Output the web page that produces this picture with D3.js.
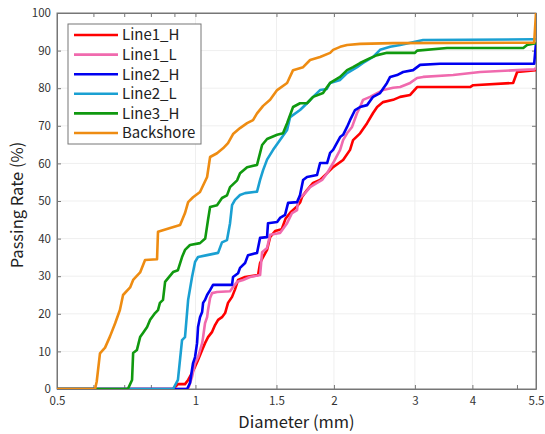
<!DOCTYPE html>
<html>
<head>
<meta charset="utf-8">
<script src="https://d3js.org/d3.v7.min.js"></script>
<style>
  body { margin: 0; background: #fff; }
  text { font-family: "Noto Sans CJK JP", "Noto Sans", sans-serif; fill: #333; }
</style>
</head>
<body>
<svg id="chart" width="545" height="434"></svg>
<script>
// diameter (mm) / passing rate (%)
var line1H = [[0.5,0],[0.894,0],[0.903,0.5],[0.916,1.3],[0.949,1.3],[0.964,2.4],[0.983,4.3],[0.998,5.9],[1.013,7.7],[1.034,10.4],[1.049,12.2],[1.065,13.8],[1.087,15.2],[1.103,17],[1.12,18.4],[1.142,19.1],[1.16,20.2],[1.177,22.9],[1.201,24.5],[1.219,26.5],[1.238,29],[1.282,29.8],[1.368,30.3],[1.382,33.5],[1.403,35.1],[1.431,37],[1.453,40.4],[1.49,42],[1.54,42.5],[1.57,45.3],[1.61,47],[1.66,48.5],[1.69,49.7],[1.705,51.1],[1.748,52.9],[1.802,54.8],[1.866,55.6],[1.933,57.4],[1.992,59],[2.094,60.9],[2.168,63.6],[2.201,66.2],[2.28,68],[2.361,70.7],[2.433,73.4],[2.483,75],[2.558,76.3],[2.69,76.9],[2.786,77.7],[2.929,78.2],[3.033,80.3],[3.955,80.3],[4.015,80.8],[4.905,81.4],[5.005,84.3],[5.5,84.8]];
var line1L = [[0.5,0],[0.964,0],[0.983,3.2],[0.998,6.9],[1.013,8.5],[1.034,12.2],[1.039,13.8],[1.049,17.5],[1.06,19.1],[1.065,21],[1.076,24.2],[1.087,25.5],[1.114,25.8],[1.189,26],[1.207,27.1],[1.232,28.5],[1.269,29],[1.314,29.8],[1.382,30.3],[1.396,36.4],[1.431,37.5],[1.453,41],[1.527,41.5],[1.582,44.1],[1.622,46.8],[1.663,47.6],[1.671,50.3],[1.731,52.1],[1.775,53.7],[1.838,54.8],[1.885,55.6],[1.933,57.4],[1.992,60.1],[2.063,63.6],[2.094,66.2],[2.136,68],[2.19,69.7],[2.246,73.4],[2.28,75],[2.314,76.9],[2.397,77.7],[2.483,78.7],[2.558,79.5],[2.69,80.1],[2.786,80.3],[2.929,81.4],[3.033,82.7],[3.126,83],[3.633,83.5],[4.158,84.3],[5.005,84.8],[5.45,85],[5.5,85.4]];
var line2H = [[0.5,0],[0.959,0],[0.973,1.6],[0.988,6.9],[0.998,8.5],[1.008,12.2],[1.013,16.5],[1.023,19.1],[1.034,20.5],[1.039,22.9],[1.049,23.7],[1.06,25],[1.076,26.3],[1.092,27.7],[1.201,27.7],[1.207,29.8],[1.238,30.8],[1.25,32.2],[1.282,33.5],[1.301,35.6],[1.361,36.2],[1.382,40.2],[1.431,40.4],[1.438,44.1],[1.505,44.4],[1.527,45.5],[1.566,46.3],[1.59,49.5],[1.663,49.7],[1.688,51.6],[1.714,55.6],[1.748,56.4],[1.838,56.9],[1.866,60.1],[1.933,60.1],[1.962,62.8],[1.992,63.6],[2.063,67],[2.094,67.6],[2.136,69.7],[2.168,71.5],[2.223,74.2],[2.28,75],[2.361,75.5],[2.433,77.7],[2.52,78.7],[2.609,81.4],[2.65,83],[2.744,83.5],[2.828,84.3],[2.973,84.8],[3.079,86.2],[3.403,86.5],[5.45,86.5],[5.5,92]];
var line2L = [[0.5,0],[0.894,0],[0.916,2.4],[0.935,13],[0.949,13.8],[0.964,23.7],[0.983,29.8],[0.998,33.8],[1.013,35.1],[1.06,35.6],[1.12,36.2],[1.142,39],[1.171,39.6],[1.189,44.1],[1.201,48.9],[1.219,50.3],[1.25,51.6],[1.282,52.1],[1.361,52.5],[1.382,55.6],[1.403,58.2],[1.431,61],[1.475,63.6],[1.527,66.2],[1.582,68.9],[1.606,72.3],[1.688,74.2],[1.748,76],[1.802,77.7],[1.866,79.5],[1.93,79.8],[1.962,81.4],[2.063,82.2],[2.136,84],[2.246,85.6],[2.314,86.7],[2.433,88.3],[2.52,90.2],[2.65,91],[2.786,91.5],[3.126,92.8],[5.45,93],[5.5,93]];
var line3H = [[0.5,0],[0.713,0],[0.728,2.4],[0.732,9.6],[0.746,10.4],[0.758,13.8],[0.769,14.9],[0.785,16.5],[0.797,18.4],[0.817,20.2],[0.829,21],[0.837,22.9],[0.85,23.7],[0.859,28.5],[0.872,29.5],[0.894,31.1],[0.916,31.6],[0.935,35.1],[0.949,37],[0.973,38.3],[1.023,38.8],[1.05,40],[1.065,45],[1.076,48.4],[1.114,48.9],[1.142,50.8],[1.171,51.5],[1.189,53.7],[1.232,55.5],[1.25,57.4],[1.295,59],[1.361,59.6],[1.382,62.8],[1.396,64.9],[1.431,66.5],[1.505,67.6],[1.55,68],[1.582,70.7],[1.63,75],[1.688,76],[1.748,76],[1.802,77.7],[1.894,78.7],[1.933,80.3],[1.962,81.4],[2.063,83],[2.136,84.8],[2.201,85.6],[2.28,86.7],[2.397,88],[2.483,88.8],[2.609,89.4],[3.0,89.4],[3.033,90],[3.524,90.7],[5.16,90.7],[5.26,91.5],[5.42,91.8],[5.5,92]];
var backshore = [[0.5,0],[0.605,0],[0.61,2],[0.62,9.5],[0.636,11],[0.652,14],[0.669,17.5],[0.685,21],[0.696,25],[0.721,27],[0.732,29],[0.758,31],[0.777,34.3],[0.825,34.5],[0.829,41.8],[0.881,42.8],[0.926,43.6],[0.949,46.8],[0.964,49.7],[0.988,51],[1.023,52.4],[1.06,56.4],[1.076,61.7],[1.114,62.7],[1.148,64],[1.177,65.4],[1.207,67.8],[1.25,69.4],[1.295,70.7],[1.334,71.5],[1.361,73.3],[1.403,75.3],[1.453,76.9],[1.505,79.5],[1.582,81.4],[1.63,84.8],[1.714,85.6],[1.775,87.5],[1.866,88.3],[1.962,89.4],[1.992,90.2],[2.063,91],[2.136,91.5],[2.28,91.8],[2.69,92],[5.45,92.1],[5.5,100]];

var seriesNames = ["Line1_H", "Line1_L", "Line2_H", "Line2_L", "Line3_H", "Backshore"];
var seriesData = [line1H, line1L, line2H, line2L, line3H, backshore];
var seriesColors = ["#ff0000", "#f06aae", "#0000f0", "#1aa0d2", "#10990f", "#ee8c12"];

var xTicks = [0.5, 0.6, 0.7, 0.8, 0.9, 1, 1.5, 2, 3, 4, 5, 5.5];
var xLabels = [0.5, 1, 1.5, 2, 3, 4, 5.5];
var yTicks = [0, 10, 20, 30, 40, 50, 60, 70, 80, 90, 100];

var svg = d3.select("#chart");
var plotL = 57, plotR = 536, plotT = 13, plotB = 389;

var x = d3.scaleLog().domain([0.5, 5.5]).range([plotL, plotR]);
var y = d3.scaleLinear().domain([0, 100]).range([plotB, plotT]);

// faint grid
svg.append("g").selectAll("line").data(xLabels.slice(1, -1)).enter().append("line")
    .attr("x1", d => x(d)).attr("x2", d => x(d)).attr("y1", plotT).attr("y2", plotB)
    .style("stroke", "#efefef").style("stroke-width", 1)
svg.append("g").selectAll("line").data(yTicks.slice(1, -1)).enter().append("line")
    .attr("x1", plotL).attr("x2", plotR).attr("y1", d => y(d)).attr("y2", d => y(d))
    .style("stroke", "#efefef").style("stroke-width", 1)

// axes (ticks inward, MATLAB-like box)
var xb = d3.axisBottom(x).tickValues(xTicks).tickSizeInner(-4).tickSizeOuter(0)
    .tickFormat(d => xLabels.indexOf(d) >= 0 ? d : "");
var xt = d3.axisTop(x).tickValues(xTicks).tickSizeInner(-4).tickSizeOuter(0).tickFormat("");
var yl = d3.axisLeft(y).tickValues(yTicks).tickSizeInner(-4).tickSizeOuter(0);
var yr = d3.axisRight(y).tickValues(yTicks).tickSizeInner(-4).tickSizeOuter(0).tickFormat("");

var gx = svg.append("g").attr("transform", "translate(0," + plotB + ")").call(xb);
svg.append("g").attr("transform", "translate(0," + plotT + ")").call(xt);
var gy = svg.append("g").attr("transform", "translate(" + plotL + ",0)").call(yl);
svg.append("g").attr("transform", "translate(" + plotR + ",0)").call(yr);

svg.selectAll(".domain").style("stroke", "#777");
svg.selectAll(".tick line").style("stroke", "#777");
gx.selectAll("text").attr("y", 8).attr("dy", "0.71em").style("font-size", "11.5px").style("fill", "#333");
gy.selectAll("text").attr("dx", "-3px").style("font-size", "11.5px").style("fill", "#333");

svg.append("rect").attr("x", plotL).attr("y", plotT).attr("width", plotR - plotL).attr("height", plotB - plotT)
    .style("fill", "none").style("stroke", "#777").style("stroke-width", 1)

svg.append("defs").append("clipPath").attr("id", "plotclip")
    .append("rect").attr("x", plotL).attr("y", plotT).attr("width", plotR - plotL).attr("height", plotB - plotT)

var line = d3.line().x(d => x(d[0])).y(d => y(d[1]));

svg.append("g").attr("clip-path", "url(#plotclip)")
    .selectAll("path")
    .data(seriesData)
    .enter()
    .append("path")
    .attr("d", d => line(d))
    .style("fill", "none")
    .style("stroke", (d, i) => seriesColors[i])
    .style("stroke-width", 2.6)
    .style("stroke-linejoin", "round")

// axis titles
svg.append("text").attr("x", (plotL + plotR) / 2).attr("y", 428)
    .style("text-anchor", "middle").style("font-size", "16.5px").style("fill", "#222")
    .text("Diameter (mm)")
svg.append("text").attr("transform", "translate(23," + ((plotT + plotB) / 2 + 4) + ") rotate(-90)")
    .style("text-anchor", "middle").style("font-size", "16.5px").style("fill", "#222")
    .text("Passing Rate (%)")

// legend
var lg = svg.append("g").attr("transform", "translate(68,24)");
lg.append("rect").attr("width", 133).attr("height", 120)
    .style("fill", "#fff").style("stroke", "#777").style("stroke-width", 1)
var rows = lg.selectAll("g").data(seriesNames).enter().append("g")
    .attr("transform", (d, i) => "translate(0," + (11 + i * 19.6) + ")")
rows.append("line").attr("x1", 6).attr("x2", 50)
    .style("stroke", (d, i) => seriesColors[i]).style("stroke-width", 2.6)
rows.append("text").attr("x", 54).attr("dy", "0.36em")
    .style("font-size", "15px").style("fill", "#222")
    .text(d => d)
</script>
</body>
</html>
